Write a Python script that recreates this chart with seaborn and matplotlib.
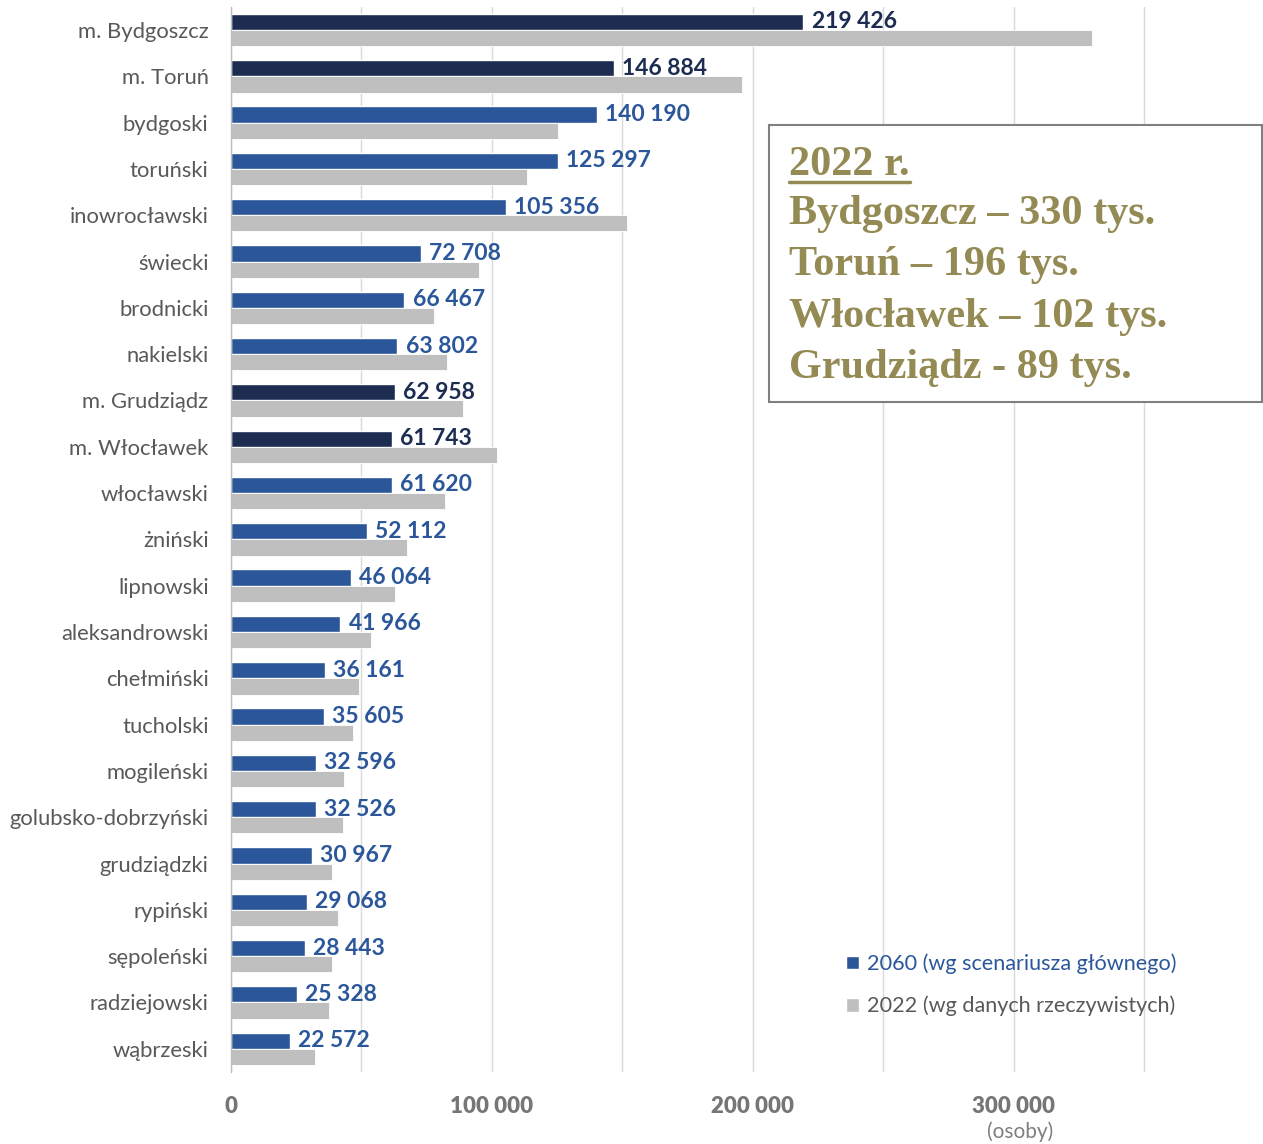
import pandas as pd
import numpy as np
import matplotlib.pyplot as plt
from matplotlib.patches import Rectangle, Patch
from matplotlib.lines import Line2D
import seaborn as sns

# data
regions = ["m. Bydgoszcz", "m. Toruń", "bydgoski", "toruński", "inowrocławski",
           "świecki", "brodnicki", "nakielski", "m. Grudziądz", "m. Włocławek",
           "włocławski", "żniński", "lipnowski", "aleksandrowski", "chełmiński",
           "tucholski", "mogileński", "golubsko-dobrzyński", "grudziądzki",
           "rypiński", "sępoleński", "radziejowski", "wąbrzeski"]
pop_2060 = [219426, 146884, 140190, 125297, 105356, 72708, 66467, 63802, 62958,
            61743, 61620, 52112, 46064, 41966, 36161, 35605, 32596, 32526,
            30967, 29068, 28443, 25328, 22572]
pop_2022 = [330000, 196000, 125200, 113500, 151800, 95100, 77900, 82900, 89000,
            102000, 82200, 67700, 63000, 53700, 49200, 46800, 43400, 43000,
            38700, 41100, 38700, 37800, 32400]
cities = ["m. Bydgoszcz", "m. Toruń", "m. Grudziądz", "m. Włocławek"]
x_ticks = [0, 50000, 100000, 150000, 200000, 250000, 300000, 350000]
x_labels = ["0", "", "100 000", "", "200 000", "", "300 000", ""]
box_lines = ["2022 r.", "Bydgoszcz – 330 tys.", "Toruń – 196 tys.",
             "Włocławek – 102 tys.", "Grudziądz - 89 tys."]
legend_labels = ["2060 (wg scenariusza głównego)", "2022 (wg danych rzeczywistych)"]

NAVY = "#1c2d51"
BLUE = "#2b579a"
GRAY = "#bfbfbf"
OLIVE = "#948a54"
TXT = "#595959"

n = len(regions)
df = pd.DataFrame({
    "region": regions * 2,
    "value": pop_2060 + pop_2022,
    "series": ["2060"] * n + ["2022"] * n,
})

sns.set_style("white")
plt.rcParams['font.family'] = ['Lato', 'DejaVu Sans']

fig = plt.figure(figsize=(12.63, 11.44), dpi=100)
ax = fig.add_axes([0.1827, 0.063, 0.8173, 0.931])

sns.barplot(data=df, y="region", x="value", hue="series", hue_order=["2060", "2022"],
            palette=[BLUE, GRAY], orient="h", width=0.7, saturation=1,
            legend=False, ax=ax)

# cities in navy
for bar, reg in zip(ax.containers[0], regions):
    if reg in cities:
        bar.set_facecolor(NAVY)
for bar in ax.containers[1]:
    bar.set_edgecolor("white")
    bar.set_linewidth(0.6)

labels = [f"{v:,}".replace(",", " ") for v in pop_2060]
texts = ax.bar_label(ax.containers[0], labels=labels, padding=6,
                     fontsize=16.5, fontweight="bold")
for t, reg in zip(texts, regions):
    t.set_color(NAVY if reg in cities else BLUE)

ax.set_xlim(0, 395500)
ax.set_xticks(x_ticks)
ax.set_xticklabels(x_labels, fontsize=16, fontweight="heavy", color="#767676")
ax.xaxis.grid(True, color="#d9d9d9", lw=1)
ax.set_axisbelow(True)
ax.tick_params(axis="x", length=0, pad=17)
ax.tick_params(axis="y", length=0, pad=16, labelsize=15.8, labelcolor=TXT)
ax.set_xlabel("")
ax.set_ylabel("")
for s in ["top", "right", "bottom"]:
    ax.spines[s].set_visible(False)
ax.spines["left"].set_color("#bfbfbf")
ax.spines["left"].set_linewidth(1)

fig.text(1020 / 1263, 1 - 1132 / 1144, "(osoby)", fontsize=15, color="#7f7f7f",
         ha="center", va="center")

# info box
W, H = 1263, 1144
box = Rectangle((769 / W, 1 - 402 / H), (1262 - 769) / W, (402 - 125) / H,
                transform=fig.transFigure, facecolor="white", edgecolor="#808080",
                lw=1.5, zorder=5)
fig.add_artist(box)
baselines = [175, 224, 275, 327, 378]
for line, yb in zip(box_lines, baselines):
    fig.text(789 / W, 1 - yb / H, line, fontsize=30.4, fontweight="bold",
             family="Liberation Serif", color=OLIVE, va="baseline", zorder=6)
fig.add_artist(Line2D([789 / W, 910 / W], [1 - 182 / H, 1 - 182 / H],
                      transform=fig.transFigure, color=OLIVE, lw=2.5, zorder=6))

handles = [Patch(facecolor=BLUE), Patch(facecolor=GRAY)]
leg = ax.legend(handles, legend_labels, loc="center left",
                bbox_to_anchor=(826 / W, 1 - 985 / H), bbox_transform=fig.transFigure,
                frameon=False, fontsize=15.6, handlelength=0.6, handleheight=0.6,
                handletextpad=0.4, labelspacing=1.0, labelcolor=[BLUE, TXT])

fig.savefig("out.png", dpi=100)
